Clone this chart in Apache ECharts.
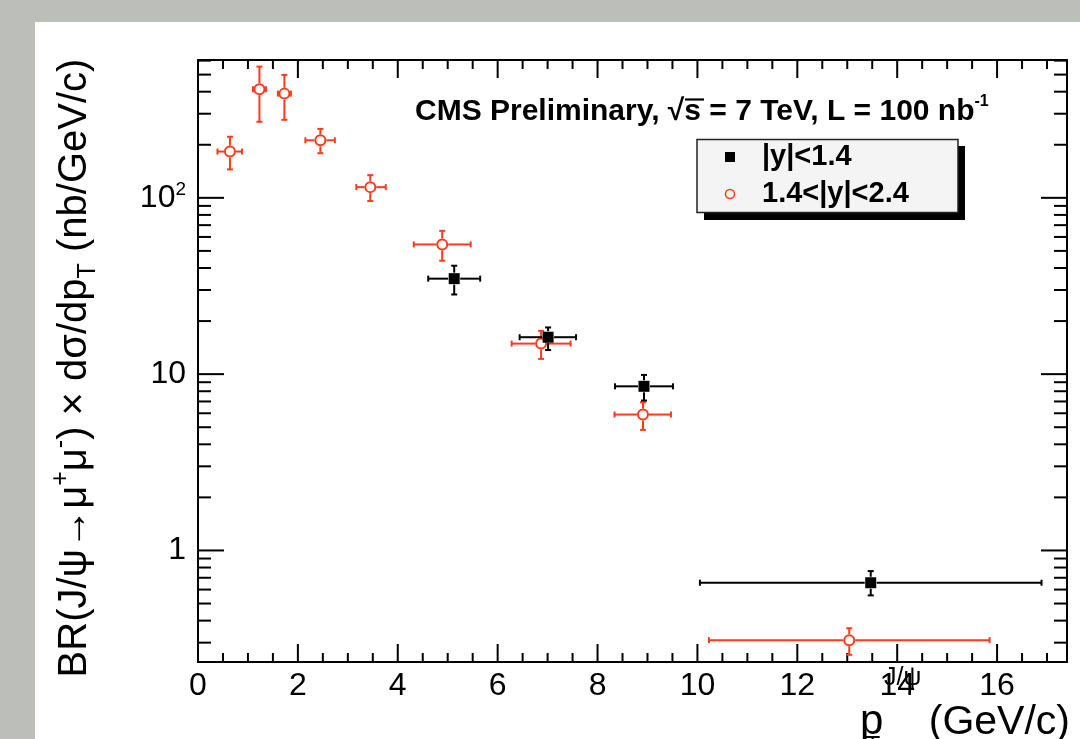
<!DOCTYPE html>
<html>
<head>
<meta charset="utf-8">
<script src="https://cdn.jsdelivr.net/npm/echarts@6/dist/echarts.min.js"></script>
<style>
html, body { margin: 0; padding: 0; background: #fff; }
#chart { width: 1080px; height: 739px; }
</style>
</head>
<body>
<div id="chart"></div>
<script>
const FONT = '"Liberation Sans", Arial, Helvetica, sans-serif';
const RED = '#ff3a1c';
const PAGE_GRAY = '#bcbeb9';

// |y|<1.4, black squares
const centralPt = [5.13, 7.01, 8.93, 13.47];
const centralVal = [34.8, 16.2, 8.53, 0.656];
const centralPtLo = [4.61, 6.44, 8.35, 10.05];
const centralPtHi = [5.65, 7.57, 9.51, 16.89];
const centralLo = [28.3, 13.7, 7.08, 0.556];
const centralHi = [41.2, 18.4, 9.9, 0.764];

// 1.4<|y|<2.4, red open circles
const forwardPt = [0.64, 1.23, 1.73, 2.45, 3.45, 4.89, 6.87, 8.91, 13.04];
const forwardVal = [183, 413, 390, 212, 115, 54.4, 14.9, 5.9, 0.31];
const forwardPtLo = [0.39, 1.10, 1.60, 2.15, 3.17, 4.32, 6.28, 8.34, 10.23];
const forwardPtHi = [0.88, 1.36, 1.86, 2.74, 3.76, 5.46, 7.46, 9.47, 15.85];
const forwardLo = [145, 270, 277, 179, 96, 44, 12.2, 4.83, 0.256];
const forwardHi = [222, 555, 498, 246, 134.5, 65, 17.6, 6.92, 0.362];

// frame ticks (drawn on all four sides)
const xMajorTicks = [0, 2, 4, 6, 8, 10, 12, 14, 16];
const xMinorTicks = [0.5, 1, 1.5, 2.5, 3, 3.5, 4.5, 5, 5.5, 6.5, 7, 7.5, 8.5, 9, 9.5,
    10.5, 11, 11.5, 12.5, 13, 13.5, 14.5, 15, 15.5, 16.5, 17];
const yMajorTicks = [1, 10, 100];
const yMinorTicks = [0.3, 0.4, 0.5, 0.6, 0.7, 0.8, 0.9, 2, 3, 4, 5, 6, 7, 8, 9,
    20, 30, 40, 50, 60, 70, 80, 90, 200, 300, 400, 500, 600];

const xMin = 0, xMax = 17.4;
const yMin = 0.233, yMax = 605;

function zipPoints(pt, val, ptLo, ptHi, lo, hi) {
    return pt.map((p, i) => [p, val[i], ptLo[i], ptHi[i], lo[i], hi[i]]);
}

// kind: 0 x major, 1 x minor, 2 y major, 3 y minor
let tickData = [];
xMajorTicks.forEach(v => tickData.push([v, 1, 0]));
xMinorTicks.forEach(v => tickData.push([v, 1, 1]));
yMajorTicks.forEach(v => tickData.push([1, v, 2]));
yMinorTicks.forEach(v => tickData.push([1, v, 3]));

function renderTick(params, api) {
    const cs = params.coordSys;
    const kind = api.value(2);
    const p = api.coord([api.value(0), api.value(1)]);
    const style = { stroke: '#000', lineWidth: 2 };
    let lines = [];
    if (kind < 2) {
        const len = kind === 0 ? 18 : 9;
        const bottom = cs.y + cs.height;
        lines.push([p[0], bottom, p[0], bottom - len]);
        lines.push([p[0], cs.y, p[0], cs.y + len]);
    } else {
        const len = kind === 2 ? 26 : 13;
        const right = cs.x + cs.width;
        lines.push([cs.x, p[1], cs.x + len, p[1]]);
        lines.push([right, p[1], right - len, p[1]]);
    }
    return {
        type: 'group',
        children: lines.map(l => ({
            type: 'line',
            shape: { x1: l[0], y1: l[1], x2: l[2], y2: l[3] },
            style: style
        }))
    };
}

function pointRenderer(color, marker) {
    return function (params, api) {
        const c = api.coord([api.value(0), api.value(1)]);
        const xl = api.coord([api.value(2), api.value(1)])[0];
        const xh = api.coord([api.value(3), api.value(1)])[0];
        const yl = api.coord([api.value(0), api.value(4)])[1];
        const yh = api.coord([api.value(0), api.value(5)])[1];
        const r = 6, cap = 3;
        const st = { stroke: color, lineWidth: 2 };
        const seg = (x1, y1, x2, y2) => ({ type: 'line', shape: { x1, y1, x2, y2 }, style: st });
        let children = [];
        if (xl < c[0] - r) children.push(seg(xl, c[1], c[0] - r, c[1]));
        if (xh > c[0] + r) children.push(seg(c[0] + r, c[1], xh, c[1]));
        if (yh < c[1] - r) children.push(seg(c[0], yh, c[0], c[1] - r));
        if (yl > c[1] + r) children.push(seg(c[0], c[1] + r, c[0], yl));
        children.push(seg(xl, c[1] - cap, xl, c[1] + cap));
        children.push(seg(xh, c[1] - cap, xh, c[1] + cap));
        children.push(seg(c[0] - cap, yh, c[0] + cap, yh));
        children.push(seg(c[0] - cap, yl, c[0] + cap, yl));
        if (marker === 'square') {
            children.push({
                type: 'rect',
                shape: { x: c[0] - 5.5, y: c[1] - 5.5, width: 11, height: 11 },
                style: { fill: color }
            });
        } else {
            children.push({
                type: 'circle',
                shape: { cx: c[0], cy: c[1], r: r - 1 },
                style: { fill: '#fff', stroke: color, lineWidth: 2 }
            });
        }
        return { type: 'group', children: children };
    };
}

const frameLine = { show: true, onZero: false, lineStyle: { color: '#000', width: 2 } };

const chart = echarts.init(document.getElementById('chart'));
chart.setOption({
    backgroundColor: '#fff',
    animation: false,
    grid: { left: 198, right: 13, top: 60, bottom: 77 },
    xAxis: [
        {
            type: 'value', min: xMin, max: xMax, interval: 2,
            axisLine: frameLine, axisTick: { show: false }, splitLine: { show: false },
            axisLabel: {
                color: '#000', fontSize: 32, fontFamily: FONT, margin: 8,
                formatter: v => (v % 2 === 0 && v <= 16) ? String(v) : ''
            }
        },
        {
            type: 'value', position: 'top', min: xMin, max: xMax, interval: 2,
            axisLine: frameLine, axisTick: { show: false }, splitLine: { show: false },
            axisLabel: { show: false }
        }
    ],
    yAxis: [
        {
            type: 'log', logBase: 10, min: yMin, max: yMax,
            axisLine: frameLine, axisTick: { show: false }, splitLine: { show: false },
            axisLabel: {
                color: '#000', fontSize: 32, fontFamily: FONT, margin: 12,
                formatter: function (v) {
                    const l = Math.log10(v);
                    const k = Math.round(l);
                    if (Math.abs(l - k) > 1e-6) return '';
                    if (k === 0) return '1';
                    if (k === 1) return '10';
                    if (k === 2) return '{b|10}{s|2}';
                    return '';
                },
                rich: {
                    b: { fontSize: 32, lineHeight: 36, fontFamily: FONT, color: '#000' },
                    s: { fontSize: 19, lineHeight: 19, fontFamily: FONT, color: '#000', verticalAlign: 'top' }
                }
            }
        },
        {
            type: 'log', logBase: 10, position: 'right', min: yMin, max: yMax,
            axisLine: frameLine, axisTick: { show: false }, splitLine: { show: false },
            axisLabel: { show: false }
        }
    ],
    series: [
        {
            type: 'custom', name: 'ticks', silent: true,
            renderItem: renderTick, data: tickData, z: 3
        },
        {
            type: 'custom', name: '1.4<|y|<2.4',
            renderItem: pointRenderer(RED, 'circle'),
            data: zipPoints(forwardPt, forwardVal, forwardPtLo, forwardPtHi, forwardLo, forwardHi),
            encode: { x: 0, y: 1 }, z: 4
        },
        {
            type: 'custom', name: '|y|<1.4',
            renderItem: pointRenderer('#000', 'square'),
            data: zipPoints(centralPt, centralVal, centralPtLo, centralPtHi, centralLo, centralHi),
            encode: { x: 0, y: 1 }, z: 5
        }
    ],
    graphic: [
        // grey page border
        { type: 'rect', shape: { x: 0, y: 0, width: 1080, height: 22 }, style: { fill: PAGE_GRAY } },
        { type: 'rect', shape: { x: 0, y: 0, width: 35, height: 739 }, style: { fill: PAGE_GRAY } },
        // title
        {
            type: 'text', x: 415, y: 112,
            style: {
                text: '{t|CMS Preliminary, √s = 7 TeV, L = 100 nb}{u|-1}',
                textVerticalAlign: 'middle',
                rich: {
                    t: { fontSize: 30, fontWeight: 'bold', fontFamily: FONT, lineHeight: 36, fill: '#000' },
                    u: { fontSize: 16, fontWeight: 'bold', fontFamily: FONT, lineHeight: 16, fill: '#000', verticalAlign: 'top' }
                }
            }
        },
        // overline of the square root
        { type: 'line', shape: { x1: 685, y1: 99.5, x2: 704, y2: 99.5 }, style: { stroke: '#000', lineWidth: 2.2 } },
        // legend box with shadow
        { type: 'rect', shape: { x: 704, y: 146, width: 261, height: 74 }, style: { fill: '#000' } },
        { type: 'rect', shape: { x: 697, y: 139.5, width: 261, height: 73 },
          style: { fill: '#f4f4f4', stroke: '#222', lineWidth: 1.5 } },
        { type: 'rect', shape: { x: 725, y: 152, width: 10, height: 10 }, style: { fill: '#000' } },
        { type: 'circle', shape: { cx: 730, cy: 194, r: 4.5 }, style: { fill: 'none', stroke: RED, lineWidth: 1.5 } },
        { type: 'text', x: 762, y: 157, style: { text: '|y|<1.4', font: 'bold 29px ' + FONT, fill: '#000', textVerticalAlign: 'middle' } },
        { type: 'text', x: 762, y: 194, style: { text: '1.4<|y|<2.4', font: 'bold 29px ' + FONT, fill: '#000', textVerticalAlign: 'middle' } },
        // y axis title
        {
            type: 'text', x: 75, y: 368, rotation: Math.PI / 2,
            style: {
                text: '{m|BR(J/ψ→μ}{p|+}{m|μ}{p|-}{m|) × dσ/dp}{b|T}{m| (nb/GeV/c)}',
                textAlign: 'center', textVerticalAlign: 'middle',
                rich: {
                    m: { fontSize: 40, fontFamily: FONT, lineHeight: 52, fill: '#000' },
                    p: { fontSize: 25, fontFamily: FONT, lineHeight: 25, fill: '#000', verticalAlign: 'top' },
                    b: { fontSize: 25, fontFamily: FONT, lineHeight: 25, fill: '#000', verticalAlign: 'bottom' }
                }
            }
        },
        // x axis title: p_T^{J/psi} (GeV/c)
        { type: 'text', x: 860, y: 722, style: { text: 'p', font: '42px ' + FONT, fill: '#000', textVerticalAlign: 'middle' } },
        { type: 'text', x: 884, y: 678, style: { text: 'J/ψ', font: '25px ' + FONT, fill: '#000', textVerticalAlign: 'middle' } },
        { type: 'text', x: 865, y: 747, style: { text: 'T', font: '25px ' + FONT, fill: '#000', textVerticalAlign: 'middle' } },
        { type: 'text', x: 1070, y: 723, style: { text: '(GeV/c)', font: '41px ' + FONT, fill: '#000', textAlign: 'right', textVerticalAlign: 'middle' } }
    ]
});
</script>
</body>
</html>
